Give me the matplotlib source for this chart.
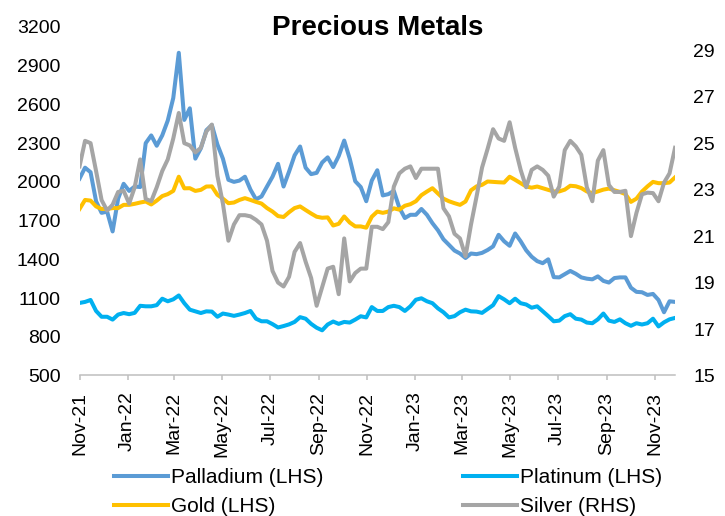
import matplotlib
matplotlib.use("Agg")
import matplotlib.pyplot as plt
import pandas as pd

plt.rcParams['font.family'] = ['Liberation Sans', 'DejaVu Sans']

# Weekly observations, Nov 2021 - Nov 2023
dates = pd.date_range("2021-11-01", periods=109, freq="7D")

palladium = [
    2025, 2110, 2075, 1850, 1760, 1770, 1616, 1870, 1985, 1930, 1964, 1960, 2300, 2360,
    2280, 2360, 2475, 2650, 3000, 2480, 2570, 2180, 2260, 2400, 2440, 2290, 2180, 2016,
    2000, 2010, 2040, 1940, 1865, 1887, 1964, 2040, 2140, 1964, 2080, 2205, 2274, 2110,
    2060, 2070, 2150, 2190, 2115, 2200, 2320, 2180, 2005, 1960, 1850, 2010, 2090,
    1895, 1905, 1930, 1800, 1720, 1745, 1745, 1790, 1745, 1680, 1625, 1555, 1512, 1468,
    1445, 1410, 1445, 1440, 1450, 1472, 1500, 1590, 1540, 1505, 1600, 1540, 1470,
    1420, 1386, 1370, 1400, 1262, 1260, 1285, 1310, 1288, 1260, 1250, 1245, 1268, 1233,
    1220, 1255, 1260, 1260, 1180, 1148, 1145, 1124, 1132, 1085, 990, 1075, 1070,
]

platinum = [
    1062, 1070, 1085, 1000, 955, 955, 933, 972, 984, 975, 985, 1040, 1036, 1036,
    1045, 1095, 1075, 1090, 1120, 1060, 1010, 997, 984, 997, 995, 955, 980, 972,
    962, 972, 984, 1000, 940, 920, 920, 898, 872, 883, 896, 915, 952, 940,
    900, 870, 850, 895, 918, 900, 915, 910, 933, 959, 950, 1030, 1000,
    1000, 1030, 1040, 1030, 1000, 1036, 1087, 1098, 1075, 1060, 1020, 990, 950, 960,
    990, 1010, 997, 995, 985, 1015, 1045, 1115, 1090, 1060, 1095, 1060, 1050,
    1025, 1036, 998, 960, 920, 925, 960, 975, 940, 933, 910, 905, 935, 980,
    925, 915, 935, 905, 885, 905, 895, 905, 940, 880, 912, 935, 946,
]

gold = [
    1790, 1860, 1855, 1810, 1790, 1790, 1797, 1797, 1822, 1822, 1830, 1840, 1848, 1825,
    1855, 1890, 1905, 1930, 2040, 1950, 1951, 1930, 1938, 1964, 1965, 1900, 1870, 1835,
    1840, 1860, 1874, 1860, 1845, 1832, 1797, 1770, 1735, 1728, 1765, 1797, 1810, 1782,
    1755, 1730, 1722, 1725, 1662, 1675, 1732, 1685, 1655, 1655, 1645, 1730, 1770,
    1760, 1770, 1795, 1785, 1815, 1827, 1850, 1897, 1925, 1951, 1910, 1870, 1850, 1835,
    1822, 1848, 1935, 1965, 1977, 2003, 2000, 1997, 1995, 2040, 2016, 1990, 1964,
    1955, 1964, 1951, 1938, 1926, 1926, 1940, 1970, 1966, 1952, 1926, 1913, 1926, 1940,
    1948, 1935, 1922, 1905, 1845, 1870, 1925, 1965, 2000, 1990, 1990, 1995, 2035,
]

silver = [
    24.0, 25.1, 25.0, 23.8, 22.55, 22.1, 22.35, 22.9, 22.95, 22.4, 23.1, 24.3, 22.6, 22.5,
    23.1, 23.8, 24.3, 25.2, 26.3, 25.0, 24.9, 24.6, 24.8, 25.5, 25.8, 23.6, 22.4, 20.8,
    21.5, 21.9, 21.9, 21.85, 21.7, 21.5, 20.8, 19.5, 19.0, 18.83, 19.25, 20.32, 20.7, 19.9,
    19.2, 18.0, 18.8, 19.6, 19.68, 18.5, 20.9, 19.05, 19.41, 19.6, 19.6, 21.4, 21.4,
    21.3, 21.6, 23.13, 23.7, 23.9, 24.0, 23.5, 23.9, 23.9, 23.9, 23.9, 22.2, 21.85, 21.1,
    20.9, 20.13, 21.5, 22.7, 23.95, 24.75, 25.6, 25.2, 25.1, 25.9, 24.8, 23.85, 23.1,
    23.85, 24.0, 23.85, 23.6, 22.7, 23.13, 24.7, 25.1, 24.86, 24.5, 23.1, 22.5, 24.25, 24.7,
    23.2, 22.9, 22.9, 22.95, 21.0, 22.0, 22.8, 22.87, 22.85, 22.5, 23.3, 23.7, 24.8,
]

tick_dates = pd.date_range("2021-11-01", "2023-11-01", freq="2MS")
tick_labels = ["Nov-21", "Jan-22", "Mar-22", "May-22", "Jul-22", "Sep-22", "Nov-22",
               "Jan-23", "Mar-23", "May-23", "Jul-23", "Sep-23", "Nov-23"]

left_ticks = list(range(500, 3201, 300))
right_ticks = list(range(15, 30, 2))

C_PALL = "#5B9BD5"
C_PLAT = "#00B0F0"
C_GOLD = "#FFC000"
C_SILV = "#A5A5A5"
AXIS_GREY = "#BFBFBF"
LW = 2.9

fig = plt.figure(figsize=(7.25, 5.16), dpi=100)
ax = fig.add_axes([0.1097, 0.2723, 0.8214, 0.6754])
ax2 = ax.twinx()

l_pall, = ax.plot(dates, palladium, color=C_PALL, lw=LW, solid_joinstyle="round")
l_plat, = ax.plot(dates, platinum, color=C_PLAT, lw=LW, solid_joinstyle="round")
l_gold, = ax.plot(dates, gold, color=C_GOLD, lw=LW, solid_joinstyle="round")
l_silv, = ax2.plot(dates, silver, color=C_SILV, lw=LW, solid_joinstyle="round")

ax.set_xlim(dates[0], dates[-1])
ax.set_ylim(500, 3200)
ax2.set_ylim(15, 30)
ax.set_yticks(left_ticks)
ax2.set_yticks(right_ticks)
ax.set_xticks(tick_dates)
ax.set_xticklabels(tick_labels)

for a in (ax, ax2):
    for side in ("top", "left", "right"):
        a.spines[side].set_visible(False)
ax2.spines["bottom"].set_visible(False)
ax.spines["bottom"].set_color(AXIS_GREY)
ax.spines["bottom"].set_linewidth(1.1)

ax.tick_params(axis="x", direction="out", length=3.6, width=1.1, color=AXIS_GREY,
               pad=8, labelsize=14, labelrotation=90)
ax.tick_params(axis="y", length=0, pad=13.7, labelsize=14)
ax2.tick_params(axis="y", length=0, pad=13, labelsize=14)

fig.text(0.521, 1 - 35 / 516, "Precious Metals", ha="center", va="baseline",
         fontsize=20, fontweight="bold")

fig.legend([l_pall, l_gold, l_plat, l_silv],
           ["Palladium (LHS)", "Gold (LHS)", "Platinum (LHS)", "Silver (RHS)"],
           loc="center", bbox_to_anchor=(0.535, 0.046), ncol=2, frameon=False,
           fontsize=15, handlelength=2.6, handletextpad=0.15, columnspacing=6.7,
           labelspacing=0.48, borderpad=0, borderaxespad=0)

fig.savefig("out.png", dpi=100)
